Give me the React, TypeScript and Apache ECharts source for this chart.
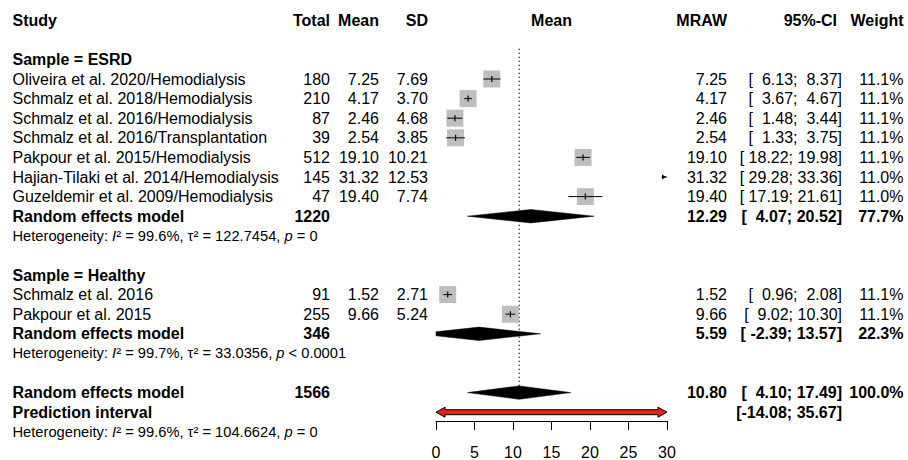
import React, { useEffect, useRef } from "react";
import * as echarts from "echarts";

const FONT = '"Liberation Sans", Arial, Helvetica, sans-serif';

// ---------- Study-level data ----------
const studyNames = [
  "Oliveira et al. 2020/Hemodialysis",
  "Schmalz et al. 2018/Hemodialysis",
  "Schmalz et al. 2016/Hemodialysis",
  "Schmalz et al. 2016/Transplantation",
  "Pakpour et al. 2015/Hemodialysis",
  "Hajian-Tilaki et al. 2014/Hemodialysis",
  "Guzeldemir et al. 2009/Hemodialysis",
  "Schmalz et al. 2016",
  "Pakpour et al. 2015",
];
const studyGroups = ["ESRD", "ESRD", "ESRD", "ESRD", "ESRD", "ESRD", "ESRD", "Healthy", "Healthy"];
const studyTotals = [180, 210, 87, 39, 512, 145, 47, 91, 255];
const studyMeans = [7.25, 4.17, 2.46, 2.54, 19.1, 31.32, 19.4, 1.52, 9.66];
const studySDs = [7.69, 3.7, 4.68, 3.85, 10.21, 12.53, 7.74, 2.71, 5.24];
const studyMRAW = [7.25, 4.17, 2.46, 2.54, 19.1, 31.32, 19.4, 1.52, 9.66];
const studyLower = [6.13, 3.67, 1.48, 1.33, 18.22, 29.28, 17.19, 0.96, 9.02];
const studyUpper = [8.37, 4.67, 3.44, 3.75, 19.98, 33.36, 21.61, 2.08, 10.3];
const studyWeights = [11.1, 11.1, 11.1, 11.1, 11.1, 11.0, 11.0, 11.1, 11.1];

// ---------- Subgroup summaries ----------
const groupNames = ["ESRD", "Healthy"];
const groupTotals = [1220, 346];
const groupEst = [12.29, 5.59];
const groupLower = [4.07, -2.39];
const groupUpper = [20.52, 13.57];
const groupWeights = [77.7, 22.3];
const groupI2 = [99.6, 99.7];
const groupTau2 = [122.7454, 33.0356];
const groupP = ["= 0", "< 0.0001"];

// ---------- Overall ----------
const overallTotal = [1566];
const overallEst = [10.8];
const overallLower = [4.1];
const overallUpper = [17.49];
const overallWeight = [100.0];
const predLower = [-14.08];
const predUpper = [35.67];
const overallI2 = [99.6];
const overallTau2 = [104.6624];
const overallP = ["= 0"];

// ---------- Axis ----------
const xMin = 0;
const xMax = 30;
const xInterval = 5;

// ---------- Headers ----------
const headerLabels = ["Study", "Total", "Mean", "SD", "Mean", "MRAW", "95%-CI", "Weight"];

// Build row layout
type Row = { kind: string; i?: number; text?: string };
const rows: Row[] = [];
rows.push({ kind: "header" });
rows.push({ kind: "blank" });
groupNames.forEach((g, gi) => {
  rows.push({ kind: "groupTitle", text: `Sample = ${g}` });
  studyNames.forEach((_, i) => {
    if (studyGroups[i] === g) rows.push({ kind: "study", i });
  });
  rows.push({ kind: "groupRE", i: gi });
  rows.push({ kind: "groupHet", i: gi });
  rows.push({ kind: "blank" });
});
rows.push({ kind: "overallRE" });
rows.push({ kind: "pred" });
rows.push({ kind: "overallHet" });

const ROW_H = 19.6;
const GRID_TOP = 20.2;
const AXIS_Y = 421;
const yMaxRows = (AXIS_Y - GRID_TOP) / ROW_H;

const f2 = (v: number) => v.toFixed(2);
const ciText = (lo: number, hi: number) => "[" + f2(lo).padStart(6, " ") + "; " + f2(hi).padStart(5, " ") + "]";
const hetText = (i2: number, tau2: number, p: string) =>
  `Heterogeneity: {it|I}² = ${i2.toFixed(1)}%, τ² = ${tau2.toFixed(4)}, {it|p} ${p}`;

// column positions (pixels)
const COL_STUDY = 12.5;
const COL_TOTAL = 330;
const COL_MEAN = 379;
const COL_SD = 428;
const COL_MRAW = 727;
const COL_CI = 842;
const COL_CI_HEAD = 837;
const COL_W = 903.5;

function txt(text: string, x: number, y: number, align: string, bold = false, size = 16): any {
  return {
    type: "text",
    silent: true,
    style: {
      text,
      x,
      y,
      align,
      verticalAlign: "middle",
      fontFamily: FONT,
      fontSize: size,
      fontWeight: bold ? "bold" : "normal",
      fill: "#000",
    },
  };
}

function het(text: string, x: number, y: number): any {
  const size = 14.7;
  return {
    type: "text",
    silent: true,
    style: {
      text,
      x,
      y,
      align: "left",
      verticalAlign: "middle",
      fontFamily: FONT,
      fontSize: size,
      fill: "#000",
      rich: {
        it: { fontFamily: FONT, fontSize: size, fontStyle: "italic", fill: "#000" },
      },
    },
  };
}

function clipPoly(pts: number[][], xmin: number, xmax: number) {
  const clip = (p: number[][], keep: (q: number[]) => boolean, edgeX: number) => {
    const out: number[][] = [];
    for (let k = 0; k < p.length; k++) {
      const a = p[k];
      const b = p[(k + 1) % p.length];
      const ia = keep(a);
      const ib = keep(b);
      if (ia) out.push(a);
      if (ia !== ib) {
        const t = (edgeX - a[0]) / (b[0] - a[0]);
        out.push([edgeX, a[1] + t * (b[1] - a[1])]);
      }
    }
    return out;
  };
  let r = clip(pts, (q) => q[0] >= xmin, xmin);
  r = clip(r, (q) => q[0] <= xmax, xmax);
  return r;
}

function diamond(api: any, lo: number, est: number, hi: number, row: number): any {
  const y = api.coord([0, row])[1];
  const xl = api.coord([lo, row])[0];
  const xe = api.coord([est, row])[0];
  const xh = api.coord([hi, row])[0];
  const x0 = api.coord([xMin, row])[0];
  const x1 = api.coord([xMax, row])[0];
  const h = 6.7;
  const pts = clipPoly(
    [
      [xl, y],
      [xe, y - h],
      [xh, y],
      [xe, y + h],
    ],
    x0,
    x1
  );
  return { type: "polygon", shape: { points: pts }, style: { fill: "#000", stroke: "#000", lineWidth: 0.5 } };
}

function renderRow(params: any, api: any): any {
  const row = rows[params.dataIndex];
  const k = params.dataIndex;
  const y = api.coord([0, k])[1];
  const X = (v: number) => api.coord([v, k])[0];
  const x0 = X(xMin);
  const x1 = X(xMax);
  const ch: any[] = [];
  switch (row.kind) {
    case "header": {
      ch.push(txt(headerLabels[0], COL_STUDY, y, "left", true));
      ch.push(txt(headerLabels[1], COL_TOTAL, y, "right", true));
      ch.push(txt(headerLabels[2], COL_MEAN, y, "right", true));
      ch.push(txt(headerLabels[3], COL_SD, y, "right", true));
      ch.push(txt(headerLabels[4], X((xMin + xMax) / 2), y, "center", true));
      ch.push(txt(headerLabels[5], COL_MRAW, y, "right", true));
      ch.push(txt(headerLabels[6], COL_CI_HEAD, y, "right", true));
      ch.push(txt(headerLabels[7], COL_W, y, "right", true));
      break;
    }
    case "groupTitle":
      ch.push(txt(row.text as string, COL_STUDY, y, "left", true));
      break;
    case "study": {
      const i = row.i as number;
      ch.push(txt(studyNames[i], COL_STUDY, y, "left"));
      ch.push(txt(String(studyTotals[i]), COL_TOTAL, y, "right"));
      ch.push(txt(f2(studyMeans[i]), COL_MEAN, y, "right"));
      ch.push(txt(f2(studySDs[i]), COL_SD, y, "right"));
      ch.push(txt(f2(studyMRAW[i]), COL_MRAW, y, "right"));
      ch.push(txt(ciText(studyLower[i], studyUpper[i]), COL_CI, y, "right"));
      ch.push(txt(studyWeights[i].toFixed(1) + "%", COL_W, y, "right"));
      // marks
      const m = studyMRAW[i];
      const inside = m >= xMin && m <= xMax;
      if (inside) {
        const s = 17 * Math.sqrt(studyWeights[i] / 11.1);
        const cx = X(m);
        ch.push({ type: "rect", shape: { x: cx - s / 2, y: y - s / 2, width: s, height: s }, style: { fill: "#BEBEBE" } });
      }
      const lx = Math.max(X(studyLower[i]), x0);
      const rx = Math.min(X(studyUpper[i]), x1);
      if (rx > lx) {
        ch.push({ type: "line", shape: { x1: lx, y1: y, x2: rx, y2: y }, style: { stroke: "#000", lineWidth: 1 } });
      }
      if (studyUpper[i] > xMax) {
        ch.push({
          type: "polygon",
          shape: { points: [[x1 - 1, y], [x1 - 5, y - 2.5], [x1 - 5, y + 2.5]] },
          style: { fill: "#000" },
        });
      }
      if (studyLower[i] < xMin) {
        ch.push({
          type: "polygon",
          shape: { points: [[x0 + 1, y], [x0 + 5, y - 2.5], [x0 + 5, y + 2.5]] },
          style: { fill: "#000" },
        });
      }
      if (inside) {
        const cx = X(m);
        ch.push({ type: "line", shape: { x1: cx, y1: y - 3, x2: cx, y2: y + 3 }, style: { stroke: "#000", lineWidth: 1.2 } });
      }
      break;
    }
    case "groupRE": {
      const gi = row.i as number;
      ch.push(txt("Random effects model", COL_STUDY, y, "left", true));
      ch.push(txt(String(groupTotals[gi]), COL_TOTAL, y, "right", true));
      ch.push(txt(f2(groupEst[gi]), COL_MRAW, y, "right", true));
      ch.push(txt(ciText(groupLower[gi], groupUpper[gi]), COL_CI, y, "right", true));
      ch.push(txt(groupWeights[gi].toFixed(1) + "%", COL_W, y, "right", true));
      ch.push(diamond(api, groupLower[gi], groupEst[gi], groupUpper[gi], k));
      break;
    }
    case "groupHet": {
      const gi = row.i as number;
      ch.push(het(hetText(groupI2[gi], groupTau2[gi], groupP[gi]), COL_STUDY, y));
      break;
    }
    case "overallRE": {
      ch.push(txt("Random effects model", COL_STUDY, y, "left", true));
      ch.push(txt(String(overallTotal[0]), COL_TOTAL, y, "right", true));
      ch.push(txt(f2(overallEst[0]), COL_MRAW, y, "right", true));
      ch.push(txt(ciText(overallLower[0], overallUpper[0]), COL_CI, y, "right", true));
      ch.push(txt(overallWeight[0].toFixed(1) + "%", COL_W, y, "right", true));
      ch.push(diamond(api, overallLower[0], overallEst[0], overallUpper[0], k));
      break;
    }
    case "pred": {
      ch.push(txt("Prediction interval", COL_STUDY, y, "left", true));
      ch.push(txt(ciText(predLower[0], predUpper[0]), COL_CI, y, "right", true));
      const a = Math.max(X(predLower[0]), x0);
      const b = Math.min(X(predUpper[0]), x1);
      const hl = 9;
      const hh = 5;
      const bt = 2.5;
      const leftArrow = predLower[0] < xMin;
      const rightArrow = predUpper[0] > xMax;
      const la = leftArrow ? a + hl : a;
      const rb = rightArrow ? b - hl : b;
      const pts: number[][] = [];
      if (leftArrow) {
        pts.push([a, y], [la, y - hh], [la, y - bt]);
      } else {
        pts.push([a, y - bt]);
      }
      if (rightArrow) {
        pts.push([rb, y - bt], [rb, y - hh], [b, y], [rb, y + hh], [rb, y + bt]);
      } else {
        pts.push([b, y - bt], [b, y + bt]);
      }
      if (leftArrow) {
        pts.push([la, y + bt], [la, y + hh]);
      } else {
        pts.push([a, y + bt]);
      }
      ch.push({ type: "polygon", shape: { points: pts }, style: { fill: "#E3231B", stroke: "#000", lineWidth: 1 } });
      break;
    }
    case "overallHet":
      ch.push(het(hetText(overallI2[0], overallTau2[0], overallP[0]), COL_STUDY, y));
      break;
  }
  return { type: "group", children: ch };
}

const refTopRow = 1.45;
const refBottomRow = rows.findIndex((r) => r.kind === "overallRE");

export default function App() {
  const ref = useRef<HTMLDivElement>(null);
  useEffect(() => {
    if (!ref.current) return;
    const chart = echarts.init(ref.current, undefined, { renderer: "svg" });
    chart.setOption({
      animation: false,
      backgroundColor: "#fff",
      grid: { left: 436, right: 241, top: GRID_TOP, height: AXIS_Y - GRID_TOP, containLabel: false },
      xAxis: {
        type: "value",
        min: xMin,
        max: xMax,
        interval: xInterval,
        position: "bottom",
        axisLine: { show: true, onZero: false, lineStyle: { color: "#000", width: 1 } },
        axisTick: { show: true, length: 9, lineStyle: { color: "#000", width: 1 } },
        axisLabel: { color: "#000", fontFamily: FONT, fontSize: 16, margin: 23 },
        splitLine: { show: false },
      },
      yAxis: {
        type: "value",
        inverse: true,
        min: 0,
        max: yMaxRows,
        show: false,
      },
      series: [
        {
          type: "line",
          z: 1,
          symbol: "none",
          silent: true,
          data: [
            [overallEst[0], refTopRow],
            [overallEst[0], refBottomRow],
          ],
          lineStyle: { color: "#000", width: 1, type: [1.5, 2.5] },
        },
        {
          type: "custom",
          z: 2,
          silent: true,
          clip: false,
          renderItem: renderRow,
          data: rows.map((_, k) => [0, k]),
        },
      ],
    });
    return () => chart.dispose();
  }, []);
  return <div ref={ref} style={{ position: "absolute", left: 0, top: 0, width: 908, height: 460 }} />;
}
